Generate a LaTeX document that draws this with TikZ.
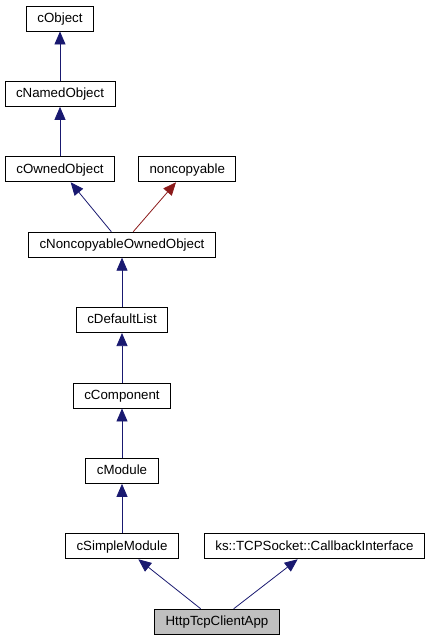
\documentclass[tikz,border=0pt]{standalone}
\usepackage{fontspec}
\setmainfont{Liberation Sans}
\usepackage{tikz}
\usetikzlibrary{arrows.meta,positioning}
\definecolor{edgeblue}{HTML}{191970}
\definecolor{edgered}{HTML}{8B1A1A}
\tikzset{
  cls/.style={draw, line width=0.9pt, fill=white, minimum height=25pt, inner xsep=11pt, inner ysep=0pt,
    text height=9.5pt, text depth=2pt, font=\fontsize{13.3}{16}\selectfont},
  self/.style={cls, fill=black!25},
  arr/.style={-{Triangle[length=13pt, width=11pt]}, line width=0.8pt, edgeblue},
  arrpriv/.style={arr, edgered}}

\begin{document}
\begin{tikzpicture}[x=1pt, y=1pt, node distance=49.5pt and 23pt]
  \useasboundingbox (0,0) rectangle (430,-635);
  \node[cls] (cobj) at (60,-18.5) {cObject};
  \node[cls, below=of cobj] (cnamed) {cNamedObject};
  \node[cls, below=of cnamed] (cowned) {cOwnedObject};
  \node[cls, right=of cowned] (noncop) {noncopyable};
  \node[cls, below=of cowned, xshift=62pt] (cnoncop) {cNoncopyableOwnedObject};
  \node[cls, below=of cnoncop] (cdeflist) {cDefaultList};
  \node[cls, below=of cdeflist] (ccomp) {cComponent};
  \node[cls, below=of ccomp] (cmod) {cModule};
  \node[cls, below=of cmod] (csimple) {cSimpleModule};
  \node[cls, right=25pt of csimple] (cbiface) {ks::TCPSocket::CallbackInterface};
  \node[self, below=of csimple, xshift=95pt] (app) {HttpTcpClientApp};
  \draw[arr] (cnamed) -- (cobj); \draw[arr] (cowned) -- (cnamed);
  \draw[arr] (cnoncop) -- (cowned); \draw[arrpriv] (cnoncop) -- (noncop);
  \draw[arr] (cdeflist) -- (cnoncop); \draw[arr] (ccomp) -- (cdeflist);
  \draw[arr] (cmod) -- (ccomp); \draw[arr] (csimple) -- (cmod);
  \draw[arr] (app) -- (csimple); \draw[arr] (app) -- (cbiface);
\end{tikzpicture}
\end{document}
